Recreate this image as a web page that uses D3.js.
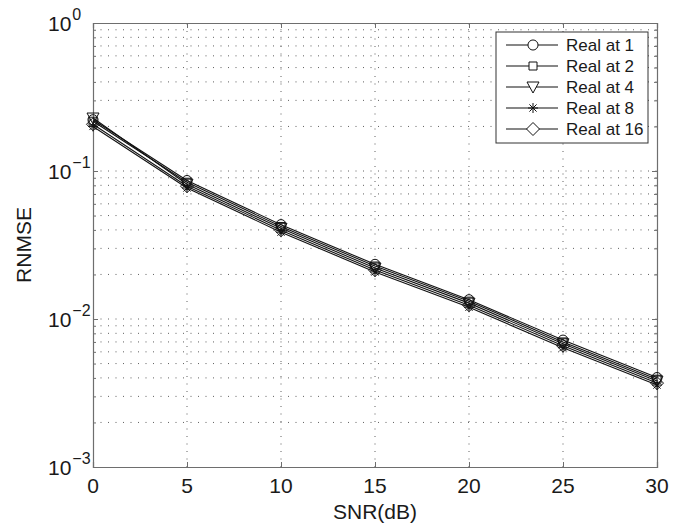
<!DOCTYPE html>
<html>
<head>
<meta charset="utf-8">
<script src="https://cdn.jsdelivr.net/npm/d3@7"></script>
<style>
  html, body { margin: 0; padding: 0; background: #fff; }
  svg { display: block; }
  text { font-family: "Liberation Sans", Arial, Helvetica, sans-serif; fill: #1a1a1a; }
</style>
</head>
<body>
<svg id="chart" width="688" height="527"></svg>
<script>
// SNR sweep (dB)
const snrDb = [0, 5, 10, 15, 20, 25, 30];

// RNMSE for each realisation count
const realAt1  = [0.222, 0.0862, 0.0434, 0.0234, 0.0135, 0.0072, 0.00402];
const realAt2  = [0.217, 0.0840, 0.0422, 0.0228, 0.0132, 0.0070, 0.00392];
const realAt4  = [0.228, 0.0815, 0.0410, 0.0221, 0.0128, 0.0068, 0.00381];
const realAt8  = [0.200, 0.0768, 0.0386, 0.0208, 0.0120, 0.0064, 0.00358];
const realAt16 = [0.207, 0.0790, 0.0398, 0.0214, 0.0124, 0.0066, 0.00369];

const seriesNames   = ["Real at 1", "Real at 2", "Real at 4", "Real at 8", "Real at 16"];
const seriesMarkers = ["circle", "square", "triangle", "star", "diamond"];
const seriesValues  = [realAt1, realAt2, realAt4, realAt8, realAt16];

const xTicks = [0, 5, 10, 15, 20, 25, 30];
const yDecades = [-3, -2, -1, 0];
const yTickLabels = ["−3", "−2", "−1", "0"];

const svg = d3.select("#chart");
const margin = { left: 93, right: 31, top: 23, bottom: 60 };
const W = 688, H = 527;
const x0 = margin.left, x1 = W - margin.right;
const y0 = H - margin.bottom, y1 = margin.top;

const x = d3.scaleLinear().domain([0, 30]).range([x0, x1]);
const y = d3.scaleLog().domain([1e-3, 1]).range([y0, y1]);

const axisColor = "#6e6e6e";
const gridColor = "#3a3a3a";

// minor + major log ticks
const yAllTicks = [];
for (let e = -3; e < 0; e++) {
  for (let m = 1; m <= 9; m++) yAllTicks.push(m * Math.pow(10, e));
}
yAllTicks.push(1);

const grid = svg.append("g");
// horizontal dotted grid
grid.selectAll("line.h").data(yAllTicks.filter(v => v > 1e-3 && v < 1)).join("line")
  .attr("x1", x0).attr("x2", x1)
  .attr("y1", d => y(d)).attr("y2", d => y(d))
  .attr("stroke", gridColor).attr("stroke-width", 1)
  .attr("stroke-dasharray", "1,6.5").attr("opacity", 0.8);
// vertical dotted grid
grid.selectAll("line.v").data(xTicks.filter(v => v > 0 && v < 30)).join("line")
  .attr("x1", d => x(d)).attr("x2", d => x(d))
  .attr("y1", y0).attr("y2", y1)
  .attr("stroke", gridColor).attr("stroke-width", 1)
  .attr("stroke-dasharray", "1,6.5").attr("opacity", 0.8);

// axes with inward ticks on all four sides
const xBottom = d3.axisBottom(x).tickValues(xTicks).tickSize(-5).tickFormat("");
const xTop = d3.axisTop(x).tickValues(xTicks).tickSize(-5).tickFormat("");
const yLeft = d3.axisLeft(y).tickValues(yAllTicks).tickSize(-5).tickFormat("");
const yRight = d3.axisRight(y).tickValues(yAllTicks).tickSize(-5).tickFormat("");

function styleAxis(g) {
  g.selectAll("path.domain").attr("stroke", axisColor).attr("stroke-width", 1.2);
  g.selectAll(".tick line").attr("stroke", axisColor).attr("stroke-width", 1);
}
svg.append("g").attr("transform", `translate(0,${y0})`).call(xBottom).call(styleAxis);
svg.append("g").attr("transform", `translate(0,${y1})`).call(xTop).call(styleAxis);
svg.append("g").attr("transform", `translate(${x0},0)`).call(yLeft).call(styleAxis)
  .selectAll(".tick line").attr("x2", d => Math.abs(Math.log10(d) % 1) < 1e-9 ? 5 : 3);
svg.append("g").attr("transform", `translate(${x1},0)`).call(yRight).call(styleAxis)
  .selectAll(".tick line").attr("x2", d => Math.abs(Math.log10(d) % 1) < 1e-9 ? -5 : -3);

// x tick labels
svg.append("g").selectAll("text").data(xTicks).join("text")
  .attr("x", d => x(d)).attr("y", y0 + 26)
  .attr("text-anchor", "middle").attr("font-size", 21)
  .text(d => d);

// y tick labels: 10 with superscript exponent
const yl = svg.append("g").selectAll("text").data(yDecades).join("text")
  .attr("x", 48).attr("y", d => y(Math.pow(10, d)) + 8)
  .attr("font-size", 21);
yl.append("tspan").text("10");
yl.append("tspan").attr("font-size", 16).attr("dy", -11).attr("dx", 1)
  .text((d, i) => yTickLabels[i]);

// axis titles
svg.append("text").attr("x", (x0 + x1) / 2).attr("y", H - 8)
  .attr("text-anchor", "middle").attr("font-size", 21).text("SNR(dB)");
svg.append("text")
  .attr("transform", `translate(31,${(y0 + y1) / 2}) rotate(-90)`)
  .attr("text-anchor", "middle").attr("font-size", 21).text("RNMSE");

// marker path generators
function markerPath(type) {
  switch (type) {
    case "circle": return d3.symbol(d3.symbolCircle, 80)();
    case "square": return "M-4,-4H4V4H-4Z";
    case "triangle": return "M-6,-5H6L0,6Z";
    case "diamond": return "M0,-6.5L6.5,0L0,6.5L-6.5,0Z";
    case "star": return "M0,-5V5M-5,0H5M-3.6,-3.6L3.6,3.6M-3.6,3.6L3.6,-3.6";
  }
}

const line = d3.line().x((d, i) => x(snrDb[i])).y(d => y(d));
const plot = svg.append("g");
seriesValues.forEach((vals, k) => {
  plot.append("path").datum(vals)
    .attr("d", line).attr("fill", "none")
    .attr("stroke", "#111").attr("stroke-width", 1.1);
  plot.append("g").selectAll("path").data(vals).join("path")
    .attr("transform", (d, i) => `translate(${x(snrDb[i])},${y(d)})`)
    .attr("d", markerPath(seriesMarkers[k]))
    .attr("fill", "none").attr("stroke", "#111").attr("stroke-width", 1);
});

// legend
const lg = svg.append("g");
const lgX = 496, lgY = 32, lgW = 152, lgH = 111;
lg.append("rect").attr("x", lgX).attr("y", lgY).attr("width", lgW).attr("height", lgH)
  .attr("fill", "#fff").attr("stroke", "#333").attr("stroke-width", 1);
seriesNames.forEach((name, k) => {
  const cy = lgY + 13 + k * 21;
  lg.append("line").attr("x1", lgX + 10).attr("x2", lgX + 62)
    .attr("y1", cy).attr("y2", cy).attr("stroke", "#111").attr("stroke-width", 1.1);
  lg.append("path").attr("transform", `translate(${lgX + 37},${cy})`)
    .attr("d", markerPath(seriesMarkers[k]))
    .attr("fill", seriesMarkers[k] === "star" ? "none" : "#fff")
    .attr("stroke", "#111").attr("stroke-width", 1);
  lg.append("text").attr("x", lgX + 70).attr("y", cy + 6)
    .attr("font-size", 17).text(name);
});
</script>
</body>
</html>
